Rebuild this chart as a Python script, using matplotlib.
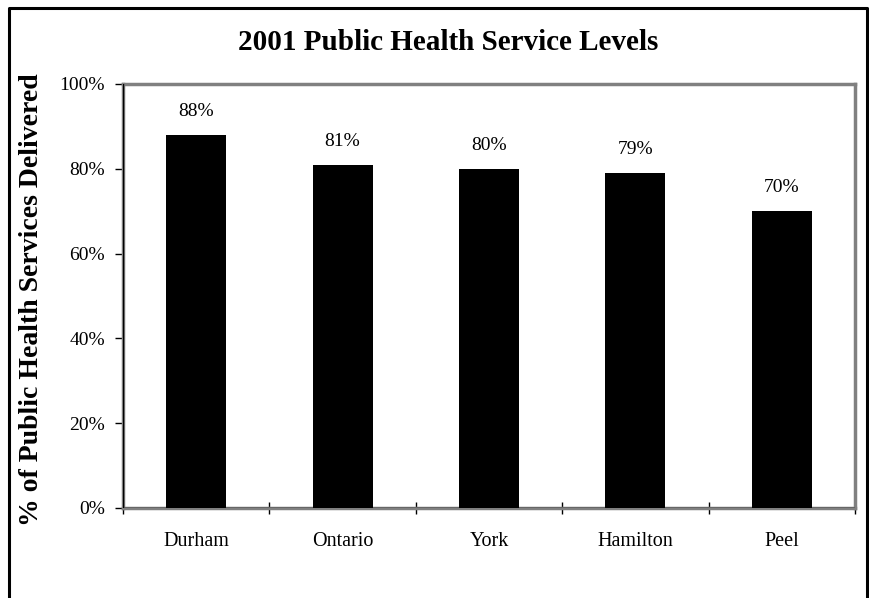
import matplotlib.pyplot as plt
from matplotlib.lines import Line2D

regions = ['Durham', 'Ontario', 'York', 'Hamilton', 'Peel']
service_levels = [88, 81, 80, 79, 70]
y_ticks = [0, 20, 40, 60, 80, 100]

plt.rcParams['font.family'] = ['Liberation Serif', 'DejaVu Serif']

W, H = 870, 598
fig = plt.figure(figsize=(W / 100, H / 100), dpi=100)
ax = fig.add_axes([123 / W, 1 - 508 / H, 732 / W, 424 / H])

x = list(range(len(regions)))
ax.bar(x, service_levels, width=0.41, color='black', zorder=3)
for xi, v in zip(x, service_levels):
    ax.text(xi, v + 5.5, f'{v}%', ha='center', va='center', fontsize=14)

ax.set_xlim(-0.5, len(regions) - 0.5)
ax.set_ylim(0, 100)
ax.set_yticks(y_ticks)
ax.set_yticklabels([f'{t}%' for t in y_ticks], fontsize=14)
ax.set_xticks(x)
ax.set_xticklabels(regions, fontsize=14.5)
ax.tick_params(axis='x', length=0, pad=17)
ax.set_xticks([i + 0.5 for i in range(-1, len(regions))], minor=True)
ax.tick_params(axis='x', which='minor', length=8, direction='inout', width=1)
ax.tick_params(axis='y', length=6, direction='out', width=1, pad=7)

for side in ['top', 'right', 'left', 'bottom']:
    ax.spines[side].set_color('#808080')
    ax.spines[side].set_linewidth(2.5)
ax.axvline(-0.5, color='black', lw=1, zorder=4)
ax.axhline(0, color='black', lw=1, zorder=4)

fig.text(32 / W, 1 - 300 / H, '% of Public Health Services Delivered',
         rotation=90, ha='center', va='center', fontsize=20, fontweight='bold')
fig.text(448 / W, 1 - 42 / H, '2001 Public Health Service Levels', ha='center',
         va='center', fontsize=21, fontweight='bold')

# outer frame (bottom edge falls outside the image)
fx = [9 / W, 9 / W, 867 / W, 867 / W]
fy = [0, 1 - 8 / H, 1 - 8 / H, 0]
fig.add_artist(Line2D(fx, fy, color='black', lw=2.2, transform=fig.transFigure))

fig.savefig('out.png', dpi=100)
